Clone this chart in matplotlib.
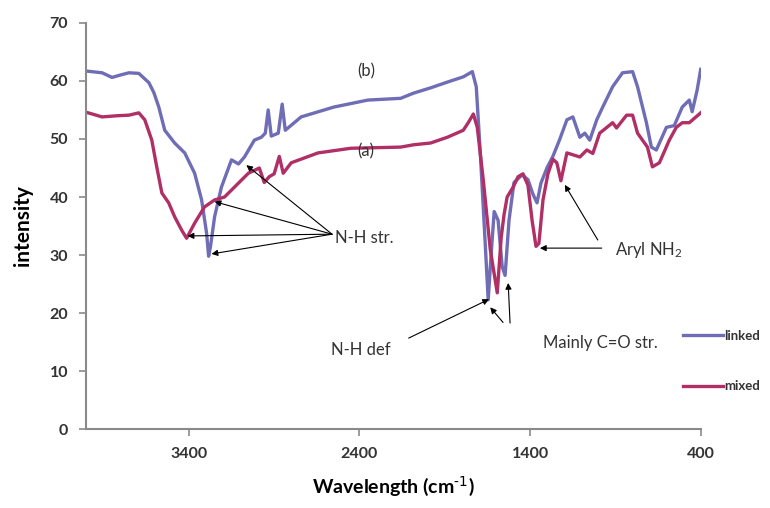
import numpy as np
import matplotlib
matplotlib.use("Agg")
import matplotlib.pyplot as plt

plt.rcParams["font.family"] = ["Lato", "DejaVu Sans"]
plt.rcParams["mathtext.default"] = "regular"

# FTIR spectra (wavenumber, intensity)
linked_wn = [4000, 3907, 3849, 3802, 3750, 3692, 3633, 3604, 3575, 3540, 3482, 3423,
             3365, 3324, 3295, 3283, 3272, 3248, 3208, 3149, 3108, 3073, 3015, 2974,
             2951, 2934, 2916, 2875, 2852, 2834, 2741, 2549, 2350, 2158, 2082, 1983,
             1884, 1791, 1738, 1715, 1692, 1668, 1645, 1628, 1610, 1587, 1563, 1546,
             1523, 1494, 1447, 1412, 1383, 1359, 1336, 1301, 1266, 1225, 1184, 1149,
             1108, 1079, 1050, 1009, 974, 916, 858, 799, 770, 718, 689, 660, 601, 555,
             508, 467, 450, 421, 400]
linked_int = [61.7, 61.4, 60.6, 61.0, 61.4, 61.3, 59.7, 58.0, 55.5, 51.5, 49.3, 47.6,
              44.1, 39.5, 33.8, 29.8, 31.5, 36.6, 41.7, 46.4, 45.7, 46.9, 49.8, 50.3,
              51.0, 55.0, 50.5, 51.0, 56.0, 51.5, 53.8, 55.5, 56.7, 57.0, 57.9, 58.8,
              59.8, 60.7, 61.6, 59.0, 48.0, 35.0, 22.3, 30.0, 37.5, 36.0, 28.0, 26.5,
              36.0, 42.5, 43.8, 43.0, 40.5, 39.0, 42.4, 45.0, 47.0, 50.0, 53.3, 53.8,
              50.3, 51.0, 49.8, 53.3, 55.5, 59.0, 61.4, 61.6, 59.0, 52.8, 48.6, 48.1,
              52.0, 52.3, 55.5, 56.7, 54.7, 58.4, 62.0]

mixed_wn = [4000, 3907, 3820, 3750, 3692, 3657, 3616, 3587, 3557, 3517, 3482, 3441,
            3412, 3365, 3307, 3248, 3190, 3132, 3050, 2986, 2957, 2928, 2899, 2869,
            2846, 2799, 2642, 2450, 2158, 2082, 1983, 1884, 1791, 1762, 1732, 1709,
            1674, 1633, 1592, 1569, 1552, 1534, 1499, 1470, 1441, 1412, 1388, 1365,
            1348, 1324, 1295, 1266, 1243, 1219, 1184, 1108, 1067, 1032, 992, 916, 893,
            834, 799, 770, 741, 712, 683, 642, 584, 543, 508, 467, 400]
mixed_int = [54.6, 53.8, 54.0, 54.1, 54.5, 53.3, 49.8, 45.2, 40.7, 39.0, 36.6, 34.3,
             32.9, 35.5, 38.3, 39.5, 40.0, 41.7, 44.1, 45.0, 42.5, 43.5, 44.0, 47.0,
             44.1, 45.9, 47.6, 48.4, 48.6, 49.0, 49.3, 50.3, 51.5, 52.8, 54.3, 52.0,
             43.0, 31.0, 23.5, 33.0, 37.0, 40.0, 41.7, 43.5, 44.0, 42.0, 36.0, 31.5,
             32.0, 39.5, 44.0, 46.5, 45.9, 42.8, 47.6, 46.9, 48.1, 47.5, 51.0, 52.8,
             51.9, 54.1, 54.1, 51.0, 49.8, 48.6, 45.2, 45.9, 49.8, 52.0, 52.8, 52.8, 54.5]

x_ticks = [3400, 2400, 1400, 400]
y_ticks = [0, 10, 20, 30, 40, 50, 60, 70]

blue = "#6f6db5"
pink = "#b02f66"

fig = plt.figure(figsize=(7.7, 5.08), dpi=100)
ax = fig.add_axes([0.112, 0.155, 0.798, 0.80])

ax.plot(linked_wn, linked_int, color=blue, lw=2.4, label="linked")
ax.plot(mixed_wn, mixed_int, color=pink, lw=2.4, label="mixed")

ax.set_xlim(4000, 400)
ax.set_ylim(0, 70)
ax.set_xticks(x_ticks)
ax.set_yticks(y_ticks)
for s in ["top", "right"]:
    ax.spines[s].set_visible(False)
for s in ["left", "bottom"]:
    ax.spines[s].set_color("#8a8a8a")
    ax.spines[s].set_linewidth(1.5)
ax.tick_params(direction="out", length=5, width=1.2, color="#8a8a8a",
               labelsize=11.5, labelcolor="#333333", pad=8)
for lab in ax.get_xticklabels() + ax.get_yticklabels():
    lab.set_fontweight("bold")

ax.set_xlabel("Wavelength (cm$^{\\text{-1}}$)", fontsize=14, fontweight="bold", labelpad=10)
ax.set_ylabel("intensity", fontsize=15, fontweight="bold", labelpad=12)

txt = dict(fontsize=12, color="#333333")
ax.text(2362, 61.6, "(b)", ha="center", va="center", **txt)
ax.text(2362, 47.8, "(a)", ha="center", va="center", **txt)
ax.text(2540, 32.9, "N-H str.", ha="left", va="center", **txt)
ax.text(2391, 13.6, "N-H def", ha="center", va="center", **txt)
ax.text(990, 14.8, "Mainly C=O str.", ha="center", va="center", **txt)
ax.text(905, 30.9, "Aryl NH$_2$", ha="left", va="center", **txt)

arr = dict(arrowstyle="-|>", color="black", lw=0.8, mutation_scale=9, shrinkA=0, shrinkB=0)
for tip in [(3062, 45.5), (3248, 39.2), (3406, 33.3), (3266, 30.2)]:
    ax.annotate("", xy=tip, xytext=(2560, 33.6), arrowprops=arr)
ax.annotate("", xy=(1342, 31.2), xytext=(980, 31.2), arrowprops=arr)
ax.annotate("", xy=(1196, 42.1), xytext=(1003, 32.6), arrowprops=arr)
ax.annotate("", xy=(1640, 22.4), xytext=(2111, 15.7), arrowprops=arr)
ax.annotate("", xy=(1528, 25.2), xytext=(1517, 18.3), arrowprops=arr)
ax.annotate("", xy=(1633, 21.0), xytext=(1558, 18.4), arrowprops=arr)

leg = ax.legend(loc="upper left", bbox_to_anchor=(683 / 770, 1 - 330 / 508),
                bbox_transform=fig.transFigure, frameon=False, borderpad=0,
                borderaxespad=0, handlelength=3.0, handletextpad=0.1,
                labelspacing=2.9, prop={"weight": "bold", "size": 9.5})
for t in leg.get_texts():
    t.set_color("#333333")

fig.savefig("out.png", dpi=100)
